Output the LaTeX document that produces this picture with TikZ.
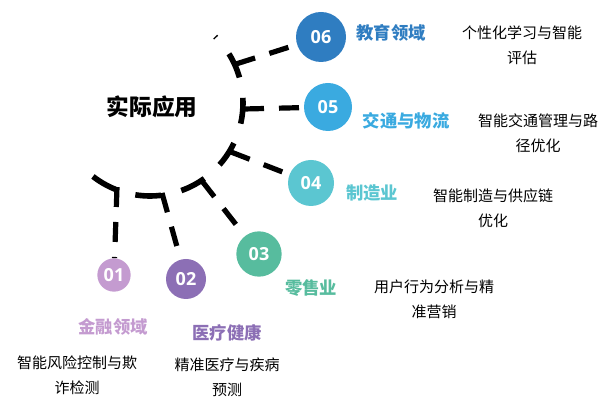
\documentclass[tikz,border=0pt]{standalone}
\usepackage{fontspec}
\newfontfamily\cjk{Noto Sans CJK SC}
\newfontfamily\numfont{Open Sans}
\usetikzlibrary{calc}

\definecolor{eduC}{HTML}{2F7DC1}
\definecolor{trafC}{HTML}{3AAAE0}
\definecolor{manuC}{HTML}{5BC6D1}
\definecolor{retC}{HTML}{57BC9E}
\definecolor{medC}{HTML}{8C6FB5}
\definecolor{finC}{HTML}{C49BD0}

\begin{document}
\begin{tikzpicture}[x=0.75pt,y=-0.75pt,
    trunk/.style={line width=4.2pt, dash pattern=on 19.5pt off 15.5pt, dash phase=18.5pt},
    branch/.style={line width=3.9pt, dash pattern=on 15pt off 11.25pt},
    num/.style={circle, inner sep=0pt, text=white,
      font=\numfont\bfseries\fontsize{13.5}{13.5}\selectfont},
    field/.style={font=\cjk\bfseries\fontsize{13}{13}\selectfont},
    desc/.style={align=center, font=\cjk\fontsize{11.25}{18.75}\selectfont}]
    \useasboundingbox (0,0) rectangle (614,409);
    \node[font=\cjk\bfseries\fontsize{17}{17}\selectfont] (hub) at (152,107) {实际应用};
    \coordinate (ctr) at (150,103);
    \draw[trunk] ($(ctr)+(-45.5:93)$) arc[start angle=-45.5, end angle=128.2, radius=93];
    \coordinate (t6) at (236,64);
    \coordinate (t5) at (244,109);
    \coordinate (t4) at (231,152);
    \coordinate (t3) at (202,181);
    \coordinate (t2) at (162,193);
    \coordinate (t1) at (117,187);
    % circles
    \node[num, fill=eduC,  minimum size=37.5pt] (n6) at (321,37)  {06};
    \node[num, fill=trafC, minimum size=36pt]   (n5) at (328,107) {05};
    \node[num, fill=manuC, minimum size=34.5pt] (n4) at (311,183) {04};
    \node[num, fill=retC,  minimum size=34pt]   (n3) at (259,254) {03};
    \node[num, fill=medC,  minimum size=30pt]   (n2) at (186,279) {02};
    \node[num, fill=finC,  minimum size=25pt]   (n1) at (114,275) {01};
    \foreach \i in {1,...,6}
      \draw[branch] (t\i) -- (n\i);
    % fields
    \node[field, text=eduC]  (f6) at (391,33)  {教育领域};
    \node[field, text=trafC] (f5) at (406,121) {交通与物流};
    \node[field, text=manuC] (f4) at (372,193) {制造业};
    \node[field, text=retC]  (f3) at (311,288) {零售业};
    \node[field, text=medC]  (f2) at (227,333) {医疗健康};
    \node[field, text=finC]  (f1) at (113,327) {金融领域};
    \node[desc] (d6) at (522,45)  {个性化学习与智能\\评估};
    \node[desc] (d5) at (538,133) {智能交通管理与路\\径优化};
    \node[desc] (d4) at (493,208) {智能制造与供应链\\优化};
    \node[desc] (d3) at (434,299) {用户行为分析与精\\准营销};
    \node[desc] (d2) at (227,377) {精准医疗与疾病\\预测};
    \node[desc] (d1) at (77,375)  {智能风险控制与欺\\诈检测};
  \end{tikzpicture}
\end{document}
